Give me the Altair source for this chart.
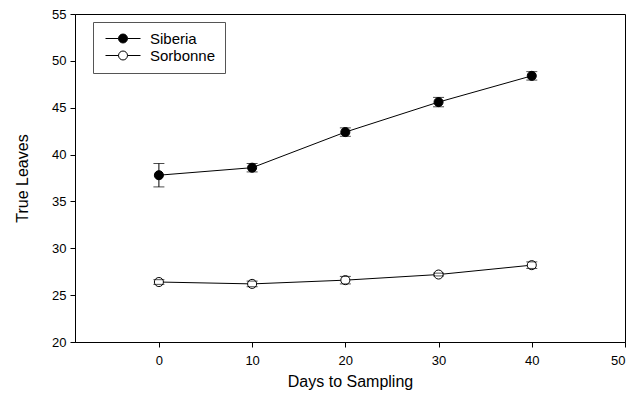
import altair as alt
import pandas as pd

days = [0, 10, 20, 30, 40]
siberia = [37.8, 38.6, 42.4, 45.6, 48.4]
siberia_err = [1.25, 0.45, 0.45, 0.5, 0.45]
sorbonne = [26.4, 26.2, 26.6, 27.2, 28.2]
sorbonne_err = [0.25, 0.3, 0.4, 0.15, 0.35]
series = ["Siberia", "Sorbonne"]

rows = []
for name, vals, errs in [("Siberia", siberia, siberia_err), ("Sorbonne", sorbonne, sorbonne_err)]:
    for d, v, e in zip(days, vals, errs):
        rows.append({"series": name, "day": d, "value": v, "lo": v - e, "hi": v + e})
df = pd.DataFrame(rows)

FONT = "Liberation Sans"
x = alt.X("day:Q", scale=alt.Scale(domain=[-9, 50], nice=False),
          axis=alt.Axis(values=[0, 10, 20, 30, 40, 50], title="Days to Sampling", grid=False,
                        tickSize=5, labelPadding=7, titlePadding=6))
y = alt.Y("value:Q", scale=alt.Scale(domain=[20, 55], nice=False, zero=False),
          axis=alt.Axis(values=[20, 25, 30, 35, 40, 45, 50, 55], title="True Leaves", grid=False,
                        tickSize=5, labelPadding=4, titlePadding=21))

base = alt.Chart(df)
line = base.mark_line(color="black", strokeWidth=1).encode(x=x, y=y, detail="series:N")
rule = base.mark_rule(color="black", strokeWidth=1).encode(x="day:Q", y="lo:Q", y2="hi:Q")
cap_lo = base.mark_tick(color="black", orient="horizontal", size=11, thickness=1).encode(x="day:Q", y="lo:Q")
cap_hi = base.mark_tick(color="black", orient="horizontal", size=11, thickness=1).encode(x="day:Q", y="hi:Q")

# custom legend symbol: line with a circle in the middle (units scaled by sqrt(size)/2 = 7px)
legend_path = "M-0.57,0H1.29M2.57,0H4.43M1.29,0A0.64,0.64 0 1,1 2.57,0A0.64,0.64 0 1,1 1.29,0Z"
points = base.mark_point(filled=False, shape="circle", size=82, stroke="black", strokeWidth=1, opacity=1).encode(
    x="day:Q", y="value:Q",
    fill=alt.Fill("series:N", scale=alt.Scale(domain=series, range=["black", "white"]),
                  legend=alt.Legend(title=None, orient="none", legendX=18, legendY=8,
                                    symbolType=legend_path, symbolSize=196,
                                    symbolStrokeColor="black", symbolStrokeWidth=1,
                                    strokeColor="#555555", padding=9, rowPadding=1,
                                    labelFont=FONT, labelFontSize=15, labelColor="black",
                                    labelOffset=33)),
)

chart = alt.layer(line, rule, points, cap_lo, cap_hi).properties(
    width=550, height=328,
    autosize=alt.AutoSizeParams(type="none"),
    padding={"left": 67, "top": 6, "right": 6, "bottom": 56},
).configure_view(stroke="black", strokeWidth=1).configure_axis(
    labelFont=FONT, titleFont=FONT, labelFontSize=13, titleFontSize=16,
    labelColor="black", titleColor="black", titleFontWeight="normal",
    domainColor="black", tickColor="black",
)

chart.save("out.html", embed_options={"renderer": "svg", "actions": False})
